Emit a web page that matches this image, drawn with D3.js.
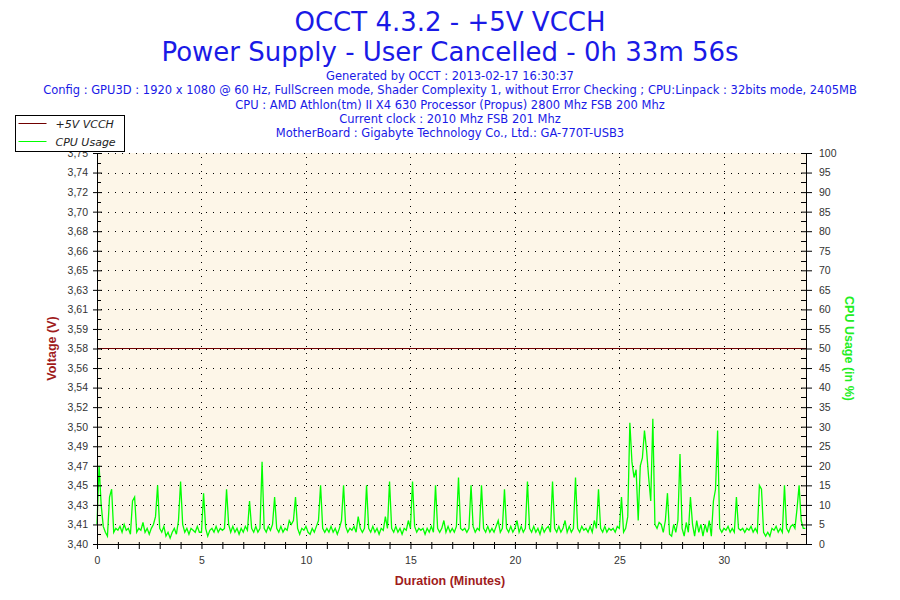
<!DOCTYPE html>
<html>
<head>
<meta charset="utf-8">
<script src="https://cdn.jsdelivr.net/npm/d3@7"></script>
<style>
    body { margin: 0; background: #fff; }
    svg text { font-family: "DejaVu Sans", Tahoma, sans-serif; }
</style>
</head>
<body>
<div id="chart"></div>
<script>
// chart texts
const titleLines = ["OCCT 4.3.2 - +5V VCCH", "Power Supply - User Cancelled - 0h 33m 56s"];
const infoLines = [
    "Generated by OCCT : 2013-02-17 16:30:37",
    "Config : GPU3D : 1920 x 1080 @ 60 Hz, FullScreen mode, Shader Complexity 1, without Error Checking ; CPU:Linpack : 32bits mode, 2405MB",
    "CPU : AMD Athlon(tm) II X4 630 Processor (Propus) 2800 Mhz FSB 200 Mhz",
    "Current clock : 2010 Mhz FSB 201 Mhz",
    "MotherBoard : Gigabyte Technology Co., Ltd.: GA-770T-USB3"
];
const seriesNames = ["+5V VCCH", "CPU Usage"];

// axes
const durationMax = 33.93; // 0h 33m 56s
const minuteTicks = [0, 5, 10, 15, 20, 25, 30];
const voltMin = 3.40, voltMax = 3.75;
const voltTickLabels = ["3,40", "3,41", "3,43", "3,45", "3,47", "3,49", "3,50", "3,52", "3,54", "3,56",
    "3,58", "3,59", "3,61", "3,63", "3,65", "3,66", "3,68", "3,70", "3,72", "3,74", "3,75"];
const cpuTicks = [0, 5, 10, 15, 20, 25, 30, 35, 40, 45, 50, 55, 60, 65, 70, 75, 80, 85, 90, 95, 100];

// voltage: flat for the whole run
const voltMinutes = [0, 33.93];
const voltValues = [3.575, 3.575];

// cpu usage (%), one sample every 0.1 minute, one row per minute
const cpuStep = 0.1;
const cpuValues = [
    5, 20, 10, 4.5, 3, 2, 12, 14, 3, 4,
    3.5, 4.5, 3, 5, 3.5, 4, 2.5, 11, 12, 3,
    4, 3.5, 5.5, 3, 4, 2.5, 4, 5, 7, 15,
    4, 3, 4.5, 2, 3, 1.5, 3, 4, 2.5, 6,
    16, 5, 3, 4, 2.5, 4, 3.5, 3, 4.5, 3,
    3, 13, 4, 2, 3.5, 4, 3, 4.5, 3, 4,
    3.5, 4, 14, 5, 3, 4.5, 3, 4, 2.5, 4,
    3, 4.5, 3.5, 11, 4, 3, 4.5, 3, 4, 21,
    4, 3, 4.5, 3.5, 5, 12, 4, 3, 4.5, 3,
    4, 3.5, 6, 5, 6, 12, 4, 2.5, 4, 3.5,
    4.5, 3, 2.5, 4, 3, 4.5, 6, 15, 4, 3,
    4, 3, 4.5, 3, 4, 2.5, 4, 6, 15, 4.5,
    3, 4, 3.5, 4.5, 3, 7, 4, 3, 4, 15,
    4, 3, 4.5, 3, 4, 2.5, 4, 3.5, 7, 4,
    16, 4, 3, 4.5, 3, 4, 2.5, 4, 3.5, 6,
    4, 16, 4.5, 3, 4, 3.5, 4, 2.5, 4, 3,
    4.5, 3, 15, 4, 3, 4, 6, 3, 4.5, 3,
    4, 3, 4.5, 17, 4, 3.5, 4, 3, 4, 15,
    4.5, 3, 4, 3.5, 15, 4, 3, 4.5, 3, 4,
    3, 4.5, 6, 3, 4, 14, 4, 3, 4.5, 3,
    4, 6, 3, 4.5, 3, 4, 16, 4, 3, 4.5,
    3, 4, 2.5, 4.5, 3, 4, 4.5, 3, 16, 4,
    3, 4.5, 3, 4, 6, 3, 4.5, 3, 4, 17,
    4, 3, 4.5, 3.5, 4, 3, 4.5, 3, 6, 4,
    14, 4, 3, 4.5, 3, 4, 3.5, 4, 3, 4.5,
    4, 12, 3, 4, 7, 31, 21, 17, 19, 6,
    20, 22, 29, 24, 17, 11, 32, 5, 4, 5.5,
    5, 3, 6, 13, 2.5, 2, 5, 3, 6, 23,
    4, 2, 5.5, 3, 12, 5, 2, 6, 3, 5,
    2, 5, 3, 6, 2, 11, 14, 29, 4, 3,
    4, 3.5, 4.5, 3, 4, 3, 12, 4, 3.5, 4,
    3, 4, 3.5, 4.5, 3, 4, 3, 15, 14, 3,
    2, 3, 2, 4, 3.5, 4.5, 3, 4, 3, 15,
    4, 3, 4.5, 5, 4, 9, 15, 6, 4, 4
];

const colors = {
    text: "#1a1ae6",
    volt: "#700000",
    cpu: "#00ff00",
    axisTitle: "#a01c1c",
    cpuTitle: "#22ee22",
    tick: "#333",
    plotBg: "#fdf6e8"
};

const width = 900, height = 600;
const plot = {left: 97, right: 806, top: 153, bottom: 544};

const svg = d3.select("#chart").append("svg")
    .attr("width", width)
    .attr("height", height);

const x = d3.scaleLinear().domain([0, durationMax]).range([plot.left, plot.right]);
const yV = d3.scaleLinear().domain([voltMin, voltMax]).range([plot.bottom, plot.top]);
const yC = d3.scaleLinear().domain([0, 100]).range([plot.bottom, plot.top]);

const voltStep = (voltMax - voltMin) / (voltTickLabels.length - 1);
const voltTicks = voltTickLabels.map((_, i) => voltMin + i * voltStep);

// plot background
svg.append("rect")
    .attr("x", plot.left).attr("y", plot.top)
    .attr("width", plot.right - plot.left)
    .attr("height", plot.bottom - plot.top)
    .attr("fill", colors.plotBg);

// dotted grid
const grid = svg.append("g")
    .attr("stroke", "#000")
    .attr("stroke-width", 1)
    .attr("stroke-dasharray", "1 6");

grid.selectAll("line.h")
    .data(cpuTicks.slice(1))
    .enter().append("line")
    .attr("class", "h")
    .attr("x1", plot.left + 4).attr("x2", plot.right)
    .attr("y1", d => Math.round(yC(d)) + 0.5)
    .attr("y2", d => Math.round(yC(d)) + 0.5);

grid.selectAll("line.v")
    .data(minuteTicks.slice(1))
    .enter().append("line")
    .attr("class", "v")
    .attr("y1", plot.top + 4).attr("y2", plot.bottom)
    .attr("x1", d => Math.round(x(d)) + 0.5)
    .attr("x2", d => Math.round(x(d)) + 0.5);

// series
const cpuLine = d3.line()
    .x((d, i) => x(i * cpuStep))
    .y(d => yC(d));

svg.append("path")
    .datum(cpuValues)
    .attr("fill", "none")
    .attr("stroke", colors.cpu)
    .attr("stroke-width", 1.3)
    .attr("d", cpuLine);

const voltLine = d3.line()
    .x((d, i) => x(voltMinutes[i]))
    .y(d => Math.round(yV(d)) + 0.5);

svg.append("path")
    .datum(voltValues)
    .attr("fill", "none")
    .attr("stroke", colors.volt)
    .attr("stroke-width", 1)
    .attr("d", voltLine);

// helper to style an axis the OCCT way
function styleAxis(g) {
    g.select(".domain").attr("stroke", "#000");
    g.selectAll(".tick line").attr("stroke", "#000");
    g.selectAll(".tick text")
        .attr("fill", colors.tick)
        .style("font-family", "'Liberation Sans', Arial, sans-serif")
        .style("font-size", "10.5px");
}

// left axis (voltage)
const leftAxis = svg.append("g")
    .attr("transform", `translate(${plot.left},0)`)
    .call(d3.axisLeft(yV)
        .tickValues(voltTicks)
        .tickSizeInner(4)
        .tickSizeOuter(0)
        .tickPadding(5)
        .tickFormat((d, i) => voltTickLabels[i]));
leftAxis.selectAll(".tick line").attr("x2", -4).attr("x1", 5);
styleAxis(leftAxis);

leftAxis.selectAll("line.minor")
    .data(voltTicks.slice(1))
    .enter().append("line")
    .attr("class", "minor")
    .attr("stroke", "#000")
    .attr("x1", 0).attr("x2", 4)
    .attr("y1", d => Math.round(yV(d - voltStep / 2)) + 0.5)
    .attr("y2", d => Math.round(yV(d - voltStep / 2)) + 0.5);

// right axis (cpu)
const rightAxis = svg.append("g")
    .attr("transform", `translate(${plot.right},0)`)
    .call(d3.axisRight(yC)
        .tickValues(cpuTicks)
        .tickSizeInner(6)
        .tickSizeOuter(0)
        .tickPadding(7));
rightAxis.selectAll(".tick line").attr("x1", -5);
styleAxis(rightAxis);

rightAxis.selectAll("line.minor")
    .data(cpuTicks.slice(1))
    .enter().append("line")
    .attr("class", "minor")
    .attr("stroke", "#000")
    .attr("x1", -5).attr("x2", 0)
    .attr("y1", d => Math.round(yC(d - 2.5)) + 0.5)
    .attr("y2", d => Math.round(yC(d - 2.5)) + 0.5);

// bottom axis (minutes)
const bottomAxis = svg.append("g")
    .attr("transform", `translate(0,${plot.bottom})`)
    .call(d3.axisBottom(x)
        .tickValues(d3.range(0, Math.floor(durationMax) + 1))
        .tickSizeInner(5)
        .tickSizeOuter(0)
        .tickPadding(8)
        .tickFormat(d => minuteTicks.includes(d) ? d : ""));
bottomAxis.selectAll(".tick line").attr("y1", -2);
styleAxis(bottomAxis);

// titles
svg.selectAll("text.title")
    .data(titleLines)
    .enter().append("text")
    .attr("class", "title")
    .attr("x", width / 2)
    .attr("y", (d, i) => 31 + i * 30)
    .attr("text-anchor", "middle")
    .attr("fill", colors.text)
    .style("font-size", "26px")
    .text(d => d);

svg.selectAll("text.info")
    .data(infoLines)
    .enter().append("text")
    .attr("class", "info")
    .attr("x", width / 2)
    .attr("y", (d, i) => 80 + i * 14.25)
    .attr("text-anchor", "middle")
    .attr("fill", colors.text)
    .style("font-size", "11.5px")
    .text(d => d);

// axis titles
svg.append("text")
    .attr("x", width / 2)
    .attr("y", 585)
    .attr("text-anchor", "middle")
    .attr("fill", colors.axisTitle)
    .style("font-family", "'Liberation Sans', Arial, sans-serif")
    .style("font-weight", "bold")
    .style("font-size", "12.5px")
    .text("Duration (Minutes)");

svg.append("text")
    .attr("transform", `translate(56,${(plot.top + plot.bottom) / 2}) rotate(-90)`)
    .attr("text-anchor", "middle")
    .attr("fill", colors.axisTitle)
    .style("font-family", "'Liberation Sans', Arial, sans-serif")
    .style("font-weight", "bold")
    .style("font-size", "12.5px")
    .text("Voltage (V)");

svg.append("text")
    .attr("transform", `translate(845,${(plot.top + plot.bottom) / 2}) rotate(90)`)
    .attr("text-anchor", "middle")
    .attr("fill", colors.cpuTitle)
    .style("font-family", "'Liberation Sans', Arial, sans-serif")
    .style("font-weight", "bold")
    .style("font-size", "12.5px")
    .text("CPU Usage (in %)");

// legend
const legend = svg.append("g").attr("transform", "translate(15.5,115.5)");
legend.append("rect")
    .attr("width", 109).attr("height", 36)
    .attr("fill", "#fff")
    .attr("stroke", "#000");

const legendItem = legend.selectAll("g.item")
    .data(seriesNames)
    .enter().append("g")
    .attr("class", "item")
    .attr("transform", (d, i) => `translate(0,${8 + i * 18})`);

legendItem.append("line")
    .attr("x1", 3).attr("x2", 31)
    .attr("stroke", (d, i) => i === 0 ? colors.volt : colors.cpu);

legendItem.append("text")
    .attr("x", 40)
    .attr("y", 4)
    .attr("fill", "#222")
    .style("font-style", "italic")
    .style("font-size", "11px")
    .text(d => d);
</script>
</body>
</html>
